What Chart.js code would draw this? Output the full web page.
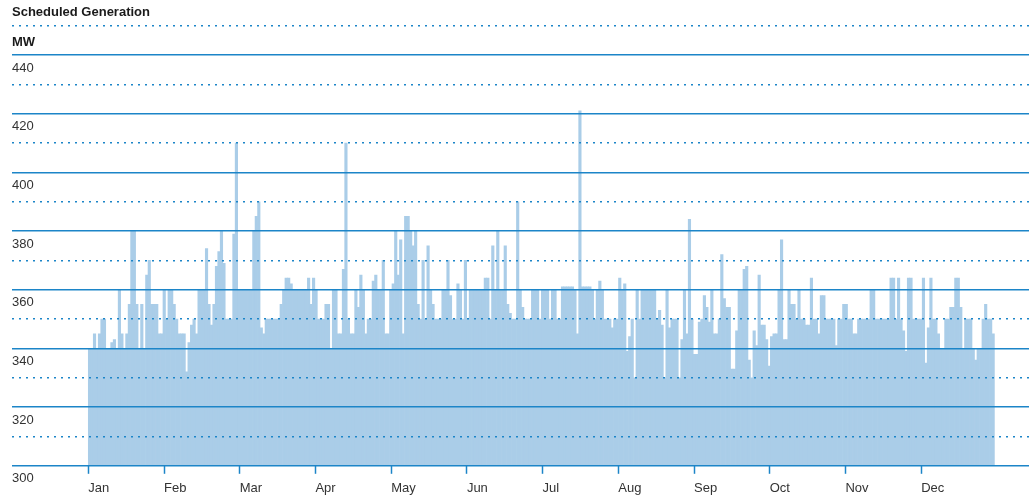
<!DOCTYPE html>
<html>
<head>
<meta charset="utf-8">
<script src="https://cdn.jsdelivr.net/npm/chart.js@4.4.1/dist/chart.umd.min.js"></script>
<style>
  body { margin: 0; background: #fff; }
  #wrap { position: relative; width: 1029px; height: 499px; }
  .lbl {
    position: absolute; left: 12px;
    font: bold 13px/15px "Liberation Sans", Arial, sans-serif;
    color: #1a1a1a;
  }
</style>
</head>
<body>
<div id="wrap">
  <canvas id="myChart"></canvas>
  <div class="lbl" style="top:4px">Scheduled Generation</div>
  <div class="lbl" style="top:34px">MW</div>
</div>
<script>
// Meses del eje x
const monthLabels = ["Jan", "Feb", "Mar", "Apr", "May", "Jun", "Jul", "Aug", "Sep", "Oct", "Nov", "Dec"];
// Etiquetas del eje y (las otras líneas cada 10 MW van punteadas)
const yTickLabels = [300, 320, 340, 360, 380, 400, 420, 440];

// Generación programada diaria (MW)
const dailyMW = [
  340, 340, 345, 340, 345, 350, 350, 340, 340, 342,
  343, 340, 360, 345, 340, 345, 355, 380, 380, 355,
  340, 355, 340, 365, 370, 355, 355, 355, 345, 345,
  360, 350, 360, 360, 355, 350, 345, 345, 345, 332,
  342, 348, 350, 345, 360, 360, 360, 374, 355, 348,
  355, 368, 373, 380, 369, 350, 350, 350, 379, 410,
  360, 360, 360, 360, 360, 360, 380, 385, 390, 347,
  345, 350, 350, 350, 350, 350, 350, 355, 360, 364,
  364, 362, 360, 360, 360, 360, 360, 360, 364, 355,
  364, 360, 350, 350, 350, 355, 355, 340, 360, 360,
  345, 345, 367, 410, 350, 345, 345, 360, 354, 365,
  360, 345, 350, 350, 363, 365, 360, 360, 370, 345,
  345, 360, 362, 380, 365, 377, 345, 385, 385, 380,
  375, 380, 355, 350, 370, 350, 375, 360, 355, 350,
  350, 350, 360, 360, 370, 358, 350, 350, 362, 360,
  350, 370, 350, 360, 360, 360, 360, 360, 360, 364,
  364, 350, 375, 360, 380, 360, 360, 375, 355, 352,
  350, 350, 390, 360, 354, 350, 350, 350, 360, 360,
  360, 350, 360, 360, 360, 350, 360, 360, 350, 350,
  361, 361, 361, 361, 361, 360, 345, 421, 361, 361,
  361, 361, 360, 350, 360, 363, 360, 350, 350, 350,
  347, 350, 350, 364, 360, 362, 339, 344, 350, 330,
  360, 350, 360, 360, 360, 360, 360, 360, 350, 353,
  348, 330, 360, 347, 350, 350, 350, 330, 343, 360,
  345, 384, 350, 338, 338, 349, 350, 358, 354, 349,
  360, 345, 345, 350, 372, 357, 354, 354, 333, 333,
  346, 360, 360, 367, 368, 336, 330, 346, 341, 365,
  348, 348, 343, 334, 344, 345, 345, 360, 377, 343,
  343, 360, 355, 355, 350, 360, 350, 350, 348, 348,
  364, 350, 350, 345, 358, 358, 350, 350, 350, 350,
  341, 350, 350, 355, 355, 350, 350, 345, 345, 350,
  350, 350, 350, 350, 360, 360, 350, 350, 350, 350,
  350, 350, 364, 364, 350, 364, 350, 346, 339, 364,
  364, 350, 350, 350, 350, 364, 335, 347, 364, 350,
  350, 345, 340, 340, 350, 350, 354, 354, 364, 364,
  354, 340, 350, 350, 350, 340, 336, 340, 340, 350,
  355, 350, 350, 345
];

// Inicio de cada mes en días (meses de igual ancho)
const monthTicks = monthLabels.map((m, i) => (i * 365) / 12);

const azul = "rgb(28, 133, 200)";
Chart.defaults.font.family = '"Liberation Sans", Arial, sans-serif';

const ctx = document.getElementById("myChart").getContext("2d");
new Chart(ctx, {
  type: "bar",
  data: {
    datasets: [
      {
        label: "Scheduled Generation",
        data: dailyMW.map((v, i) => ({ x: i + 0.5, y: v })),
        backgroundColor: "rgb(170, 205, 232)",
        borderWidth: 0,
        barPercentage: 1,
        categoryPercentage: 1,
      },
    ],
  },
  options: {
    animation: false,
    responsive: true,
    maintainAspectRatio: false,
    layout: { padding: { left: 12, right: 0, top: 25.7, bottom: -4.4 } },
    plugins: {
      legend: { display: false },
      tooltip: { enabled: false },
    },
    scales: {
      x: {
        type: "linear",
        offset: false,
        min: -30.65,
        max: 377.9,
        afterBuildTicks: (scale) => {
          scale.ticks = monthTicks.map((v) => ({ value: v }));
        },
        grid: {
          offset: false,
          drawOnChartArea: false,
          drawTicks: true,
          tickLength: 8,
          tickColor: azul,
          tickWidth: 1.5,
        },
        border: { display: false },
        ticks: {
          align: "start",
          padding: 7,
          maxRotation: 0,
          autoSkip: false,
          color: "#333",
          font: { size: 13 },
          callback: (v, i) => monthLabels[i],
        },
      },
      y: {
        min: 300,
        max: 450,
        z: 1,
        afterBuildTicks: (scale) => {
          const t = [];
          for (let v = 300; v <= 450; v += 10) t.push({ value: v });
          scale.ticks = t;
        },
        grid: {
          z: 1,
          drawTicks: false,
          color: azul,
          lineWidth: 1.5,
        },
        border: {
          display: false,
          dash: (c) => (c.tick && c.tick.value % 20 !== 0 ? [2, 5] : []),
        },
        ticks: {
          mirror: true,
          padding: 0,
          labelOffset: 13,
          color: "#333",
          font: { size: 13 },
          callback: (v) => (yTickLabels.includes(v) ? v : ""),
        },
      },
    },
  },
});
</script>
</body>
</html>
